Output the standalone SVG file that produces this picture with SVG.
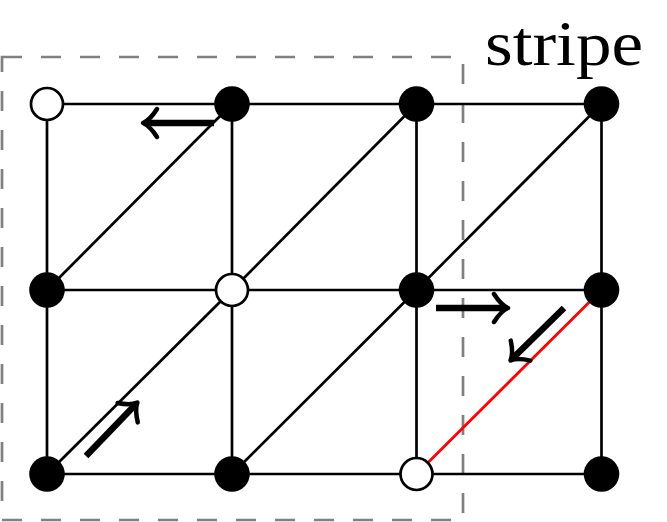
<svg xmlns="http://www.w3.org/2000/svg" width="667" height="522" viewBox="0 0 667 522">
<style>
.e{stroke:#000;stroke-width:2.7;fill:none}
.red{stroke:#ff0000;stroke-width:2.7;fill:none}
.b{fill:#000}
.w{fill:#fff;stroke:#000;stroke-width:2.7}
.ar{stroke:#000;stroke-width:6.5;fill:none;marker-end:url(#ah)}
.box{fill:none;stroke:#808080;stroke-width:2.7;stroke-dasharray:20 19}
.lbl{font-family:"Liberation Serif","DejaVu Serif",serif;font-size:64px;fill:#000}
</style>
<defs>
<marker id="ah" markerUnits="userSpaceOnUse" markerWidth="40" markerHeight="40" viewBox="-20 -20 40 40" refX="0" refY="0" orient="auto" overflow="visible">
<path d="M-12,-14 Q-5,-3 2,0 Q-5,3 -12,14" fill="none" stroke="#000" stroke-width="4.5" stroke-linecap="round" stroke-linejoin="round"/>
</marker>
</defs>
<rect class="box" x="2" y="57" width="461" height="463"/>
<text class="lbl" x="485" y="65" textLength="158" lengthAdjust="spacingAndGlyphs">stripe</text>
<g id="connectors">
<line class="e" x1="47" y1="104" x2="601" y2="104"/>
<line class="e" x1="47" y1="290" x2="601" y2="290"/>
<line class="e" x1="47" y1="474" x2="601" y2="474"/>
<line class="e" x1="47" y1="104" x2="47" y2="474"/>
<line class="e" x1="232" y1="104" x2="232" y2="474"/>
<line class="e" x1="416.5" y1="104" x2="416.5" y2="474"/>
<line class="e" x1="601.5" y1="104" x2="601.5" y2="474"/>
<line class="e" x1="47" y1="290" x2="232" y2="104"/>
<line class="e" x1="232" y1="290" x2="416.5" y2="104"/>
<line class="e" x1="416.5" y1="290" x2="601.5" y2="104"/>
<line class="e" x1="47" y1="474" x2="232" y2="290"/>
<line class="e" x1="232" y1="474" x2="416.5" y2="290"/>
<line class="red" x1="416.5" y1="474" x2="601.5" y2="290"/>
<line class="ar" x1="214" y1="123" x2="145" y2="123"/>
<line class="ar" x1="436" y1="308" x2="506" y2="308"/>
<line class="ar" x1="564" y1="308" x2="512" y2="359"/>
<line class="ar" x1="86" y1="456" x2="136" y2="404"/>
</g>
<g id="n1"><circle class="w" cx="47" cy="104" r="16"/></g>
<g id="n2"><circle class="b" cx="232" cy="104" r="17.8"/></g>
<g id="n3"><circle class="b" cx="416.5" cy="104" r="17.8"/></g>
<g id="n4"><circle class="b" cx="601.5" cy="104" r="17.8"/></g>
<g id="n5"><circle class="b" cx="47" cy="290" r="17.8"/></g>
<g id="n6"><circle class="w" cx="232" cy="290" r="16"/></g>
<g id="n7"><circle class="b" cx="416.5" cy="290" r="17.8"/></g>
<g id="n8"><circle class="b" cx="601.5" cy="290" r="17.8"/></g>
<g id="n9"><circle class="b" cx="47" cy="474" r="17.8"/></g>
<g id="n10"><circle class="b" cx="232" cy="474" r="17.8"/></g>
<g id="n11"><circle class="w" cx="416.5" cy="474" r="16"/></g>
<g id="n12"><circle class="b" cx="601.5" cy="474" r="17.8"/></g>
</svg>
